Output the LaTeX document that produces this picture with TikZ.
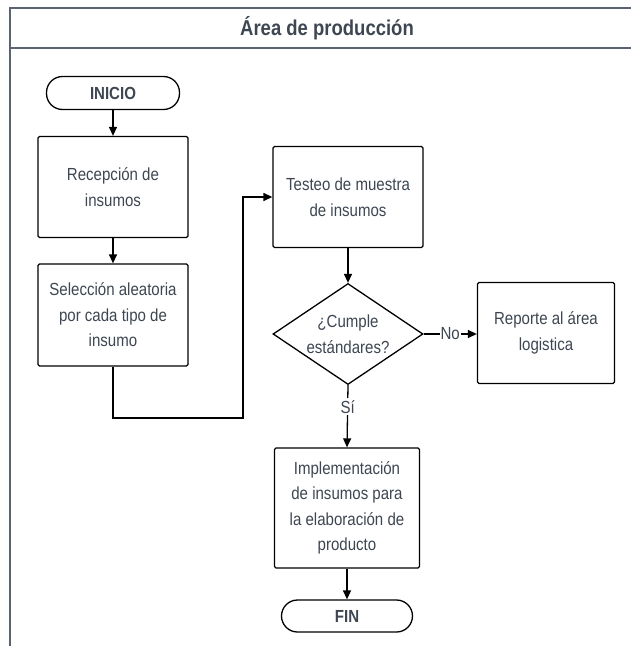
\documentclass[tikz,border=0pt]{standalone}
\usepackage{fontspec}
\setmainfont{Liberation Sans}[FakeStretch=0.86]
\usetikzlibrary{shapes.geometric,arrows.meta}
\definecolor{txt}{HTML}{3D4651}
\definecolor{frame}{HTML}{5A6470}
\begin{document}
\begin{tikzpicture}[x=1pt,y=-1pt,
  every node/.style={text=txt,font=\fontsize{17.5}{25.5}\selectfont,align=center},
  proc/.style={draw=black,line width=1.3pt,rounded corners=1.5pt,inner sep=0pt},
  term/.style={draw=black,line width=1.3pt,rounded corners=16pt,inner sep=0pt,font=\fontsize{17.5}{25}\selectfont\bfseries},
  dec/.style={draw=black,line width=1.3pt,diamond,aspect=1.5,inner sep=0pt},
  flow/.style={line width=1.3pt,-{Triangle[length=9pt,width=8pt]}},
  lane/.style={draw=frame,line width=1.6pt}]
\useasboundingbox (0,0) rectangle (630,646);
% swimlane frame
\draw[lane] (10,646) -- (10,8) -- (632,8);
\draw[lane] (10,48) -- (632,48);
\node[font=\fontsize{21.5}{25}\selectfont\bfseries] (title) at (327,28) {Área de producción};
% nodes
\node[term,minimum width=133pt,minimum height=33pt] (inicio) at (113,93) {INICIO};
\node[proc,minimum width=150pt,minimum height=101pt] (recep) at (113,187) {Recepción de\\insumos};
\node[proc,minimum width=150pt,minimum height=102pt] (selec) at (113,315) {Selección aleatoria\\por cada tipo de\\insumo};
\node[proc,minimum width=150pt,minimum height=101pt] (test) at (348,197) {Testeo de muestra\\de insumos};
\node[dec,minimum width=150pt,minimum height=101pt] (cumple) at (348,334) {¿Cumple\\estándares?};
\node[proc,minimum width=137pt,minimum height=101pt] (rep) at (546,333) {Reporte al área\\logistica};
\node[proc,minimum width=145pt,minimum height=120pt] (impl) at (347,508) {Implementación\\de insumos para\\la elaboración de\\producto};
\node[term,minimum width=131pt,minimum height=32pt] (fin) at (347,616) {FIN};
\coordinate (c1) at (113,418);
\coordinate (c2) at (243,418);
\coordinate (c3) at (243,197);
% connectors
\draw[flow] (inicio) -- (recep);
\draw[flow] (recep) -- (selec);
\draw[flow] (selec.south) -- (c1) -- (c2) -- (c3) -- (test.west);
\draw[flow] (test) -- (cumple);
\draw[flow] (cumple.east) -- node[fill=white,inner sep=1pt] {No} (rep.west |- cumple.east);
\draw[flow] (cumple.south) -- node[fill=white,inner sep=2pt,pos=0.35] {Sí} (impl.north);
\draw[flow] (impl) -- (fin);
\end{tikzpicture}
\end{document}
